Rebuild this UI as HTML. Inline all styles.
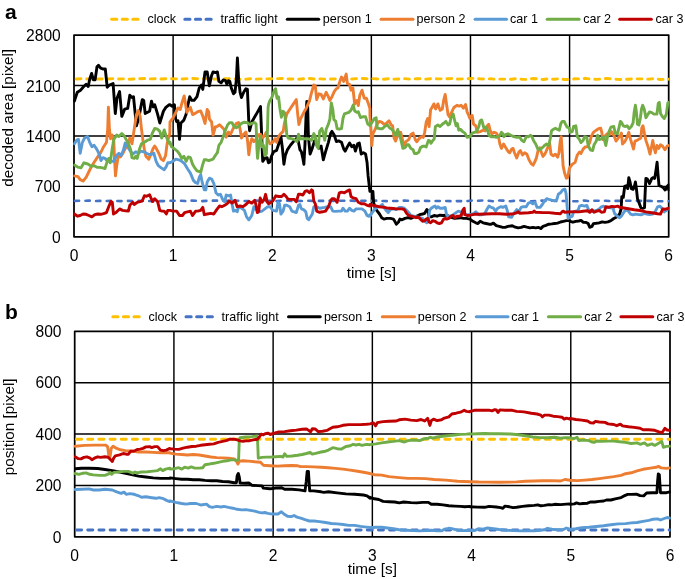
<!DOCTYPE html>
<html><head><meta charset="utf-8"><style>
html,body{margin:0;padding:0;background:#fff;}
svg{display:block;font-family:"Liberation Sans",sans-serif;will-change:transform;font-variant-ligatures:none;font-kerning:none;}
</style></head><body>
<svg width="685" height="579" viewBox="0 0 685 579">
<rect width="685" height="579" fill="#fff"/>
<defs>
<clipPath id="c1"><rect x="73.3" y="35.1" width="596.10" height="201.70"/></clipPath>
<clipPath id="c2"><rect x="74.0" y="331.3" width="596.70" height="205.50"/></clipPath>
</defs>
<text x="5.0" y="18.8" font-size="21" font-weight="bold" fill="#000">a</text>
<text x="5.0" y="319.0" font-size="21" font-weight="bold" fill="#000">b</text>
<line x1="111.60" y1="19.2" x2="138.80" y2="19.2" stroke="#FFC000" stroke-width="3.0" stroke-dasharray="5.2 5.4" stroke-linecap="round"/>
<text x="147.40" y="23.00" font-size="12.55" fill="#000">clock</text>
<line x1="184.80" y1="19.2" x2="212.00" y2="19.2" stroke="#4472C4" stroke-width="3.0" stroke-dasharray="5.2 5.4" stroke-linecap="round"/>
<text x="220.50" y="23.00" font-size="12.55" fill="#000">traffic light</text>
<line x1="287.30" y1="19.2" x2="318.70" y2="19.2" stroke="#000000" stroke-width="3.0" stroke-linecap="round"/>
<text x="322.80" y="23.00" font-size="12.55" fill="#000">person 1</text>
<line x1="381.10" y1="19.2" x2="413.00" y2="19.2" stroke="#ED7D31" stroke-width="3.0" stroke-linecap="round"/>
<text x="416.60" y="23.00" font-size="12.55" fill="#000">person 2</text>
<line x1="475.10" y1="19.2" x2="506.50" y2="19.2" stroke="#5B9BD5" stroke-width="3.0" stroke-linecap="round"/>
<text x="510.10" y="23.00" font-size="12.55" fill="#000">car 1</text>
<line x1="547.20" y1="19.2" x2="579.10" y2="19.2" stroke="#70AD47" stroke-width="3.0" stroke-linecap="round"/>
<text x="583.20" y="23.00" font-size="12.55" fill="#000">car 2</text>
<line x1="619.70" y1="19.2" x2="651.30" y2="19.2" stroke="#C00000" stroke-width="3.0" stroke-linecap="round"/>
<text x="655.50" y="23.00" font-size="12.55" fill="#000">car 3</text>
<line x1="112.80" y1="316.8" x2="140.30" y2="316.8" stroke="#FFC000" stroke-width="3.0" stroke-dasharray="5.2 5.4" stroke-linecap="round"/>
<text x="148.50" y="320.60" font-size="12.55" fill="#000">clock</text>
<line x1="186.00" y1="316.8" x2="213.50" y2="316.8" stroke="#4472C4" stroke-width="3.0" stroke-dasharray="5.2 5.4" stroke-linecap="round"/>
<text x="221.60" y="320.60" font-size="12.55" fill="#000">traffic light</text>
<line x1="288.50" y1="316.8" x2="320.20" y2="316.8" stroke="#000000" stroke-width="3.0" stroke-linecap="round"/>
<text x="323.90" y="320.60" font-size="12.55" fill="#000">person 1</text>
<line x1="382.30" y1="316.8" x2="414.50" y2="316.8" stroke="#ED7D31" stroke-width="3.0" stroke-linecap="round"/>
<text x="417.70" y="320.60" font-size="12.55" fill="#000">person 2</text>
<line x1="476.30" y1="316.8" x2="508.00" y2="316.8" stroke="#5B9BD5" stroke-width="3.0" stroke-linecap="round"/>
<text x="511.20" y="320.60" font-size="12.55" fill="#000">car 1</text>
<line x1="548.40" y1="316.8" x2="580.60" y2="316.8" stroke="#70AD47" stroke-width="3.0" stroke-linecap="round"/>
<text x="584.30" y="320.60" font-size="12.55" fill="#000">car 2</text>
<line x1="620.90" y1="316.8" x2="652.80" y2="316.8" stroke="#C00000" stroke-width="3.0" stroke-linecap="round"/>
<text x="656.60" y="320.60" font-size="12.55" fill="#000">car 3</text>
<line x1="74.0" y1="85.53" x2="668.7" y2="85.53" stroke="#000" stroke-width="1.45"/>
<line x1="74.0" y1="135.95" x2="668.7" y2="135.95" stroke="#000" stroke-width="1.45"/>
<line x1="74.0" y1="186.38" x2="668.7" y2="186.38" stroke="#000" stroke-width="1.45"/>
<line x1="173.12" y1="35.1" x2="173.12" y2="236.8" stroke="#000" stroke-width="1.45"/>
<line x1="272.23" y1="35.1" x2="272.23" y2="236.8" stroke="#000" stroke-width="1.45"/>
<line x1="371.35" y1="35.1" x2="371.35" y2="236.8" stroke="#000" stroke-width="1.45"/>
<line x1="470.47" y1="35.1" x2="470.47" y2="236.8" stroke="#000" stroke-width="1.45"/>
<line x1="569.58" y1="35.1" x2="569.58" y2="236.8" stroke="#000" stroke-width="1.45"/>
<rect x="74.0" y="35.1" width="594.70" height="201.70" fill="none" stroke="#000" stroke-width="1.75" stroke-linejoin="round"/>
<text x="60.8" y="41.20" font-size="15.6" text-anchor="end" fill="#000">2800</text>
<text x="60.8" y="91.62" font-size="15.6" text-anchor="end" fill="#000">2100</text>
<text x="60.8" y="142.05" font-size="15.6" text-anchor="end" fill="#000">1400</text>
<text x="60.8" y="192.47" font-size="15.6" text-anchor="end" fill="#000">700</text>
<text x="60.8" y="242.90" font-size="15.6" text-anchor="end" fill="#000">0</text>
<text x="74.00" y="260.80" font-size="15.6" text-anchor="middle" fill="#000">0</text>
<text x="173.12" y="260.80" font-size="15.6" text-anchor="middle" fill="#000">1</text>
<text x="272.23" y="260.80" font-size="15.6" text-anchor="middle" fill="#000">2</text>
<text x="371.35" y="260.80" font-size="15.6" text-anchor="middle" fill="#000">3</text>
<text x="470.47" y="260.80" font-size="15.6" text-anchor="middle" fill="#000">4</text>
<text x="569.58" y="260.80" font-size="15.6" text-anchor="middle" fill="#000">5</text>
<text x="668.70" y="260.80" font-size="15.6" text-anchor="middle" fill="#000">6</text>
<text x="371.35" y="277.60" font-size="15.3" text-anchor="middle" fill="#000">time [s]</text>
<text transform="translate(12.8,117.8) rotate(-90)" font-size="15.3" text-anchor="middle" fill="#000">decoded area [pixel]</text>
<line x1="74.7" y1="382.68" x2="670.0" y2="382.68" stroke="#000" stroke-width="1.45"/>
<line x1="74.7" y1="434.05" x2="670.0" y2="434.05" stroke="#000" stroke-width="1.45"/>
<line x1="74.7" y1="485.42" x2="670.0" y2="485.42" stroke="#000" stroke-width="1.45"/>
<line x1="173.92" y1="331.3" x2="173.92" y2="536.8" stroke="#000" stroke-width="1.45"/>
<line x1="273.13" y1="331.3" x2="273.13" y2="536.8" stroke="#000" stroke-width="1.45"/>
<line x1="372.35" y1="331.3" x2="372.35" y2="536.8" stroke="#000" stroke-width="1.45"/>
<line x1="471.57" y1="331.3" x2="471.57" y2="536.8" stroke="#000" stroke-width="1.45"/>
<line x1="570.78" y1="331.3" x2="570.78" y2="536.8" stroke="#000" stroke-width="1.45"/>
<rect x="74.7" y="331.3" width="595.30" height="205.50" fill="none" stroke="#000" stroke-width="1.75" stroke-linejoin="round"/>
<text x="61.5" y="337.00" font-size="15.6" text-anchor="end" fill="#000">800</text>
<text x="61.5" y="388.38" font-size="15.6" text-anchor="end" fill="#000">600</text>
<text x="61.5" y="439.75" font-size="15.6" text-anchor="end" fill="#000">400</text>
<text x="61.5" y="491.12" font-size="15.6" text-anchor="end" fill="#000">200</text>
<text x="61.5" y="542.50" font-size="15.6" text-anchor="end" fill="#000">0</text>
<text x="74.70" y="560.80" font-size="15.6" text-anchor="middle" fill="#000">0</text>
<text x="173.92" y="560.80" font-size="15.6" text-anchor="middle" fill="#000">1</text>
<text x="273.13" y="560.80" font-size="15.6" text-anchor="middle" fill="#000">2</text>
<text x="372.35" y="560.80" font-size="15.6" text-anchor="middle" fill="#000">3</text>
<text x="471.57" y="560.80" font-size="15.6" text-anchor="middle" fill="#000">4</text>
<text x="570.78" y="560.80" font-size="15.6" text-anchor="middle" fill="#000">5</text>
<text x="670.00" y="560.80" font-size="15.6" text-anchor="middle" fill="#000">6</text>
<text x="372.35" y="573.70" font-size="15.3" text-anchor="middle" fill="#000">time [s]</text>
<text transform="translate(14.0,426.9) rotate(-90)" font-size="15.3" text-anchor="middle" fill="#000">position [pixel]</text>
<!-- top curves -->
<g clip-path="url(#c1)">
<polyline points="76.15,78.94 81.46,78.70 86.77,79.04 92.07,79.06 97.38,79.05 102.69,78.98 108.00,78.97 113.30,78.64 118.61,78.93 123.92,78.86 129.23,79.28 134.53,78.98 139.84,78.79 145.15,78.54 150.46,78.89 155.76,78.75 161.07,79.05 166.38,78.64 171.69,78.71 176.99,78.89 182.30,78.95 187.61,78.61 192.92,78.55 198.22,78.72 203.53,78.72 208.84,78.62 214.15,79.08 219.45,78.94 224.76,78.71 230.07,78.84 235.38,78.89 240.68,79.27 245.99,79.18 251.30,78.67 256.61,79.11 261.91,78.86 267.22,78.88 272.53,78.81 277.84,78.59 283.14,78.54 288.45,79.00 293.76,78.98 299.07,79.23 304.37,78.73 309.68,78.54 314.99,79.13 320.30,78.88 325.60,79.18 330.91,78.93 336.22,78.98 341.53,78.60 346.83,79.14 352.14,78.93 357.45,78.60 362.76,78.51 368.06,78.74 373.37,78.66 378.68,79.00 383.99,79.23 389.29,78.63 394.60,79.15 399.91,78.94 405.22,78.63 410.52,79.20 415.83,78.81 421.14,78.77 426.45,79.16 431.75,78.56 437.06,78.86 442.37,78.86 447.68,78.72 452.98,78.53 458.29,79.12 463.60,78.74 468.91,78.69 474.21,78.28 479.52,78.81 484.83,79.09 490.14,78.81 495.44,79.20 500.75,79.15 506.06,79.17 511.37,79.30 516.67,78.62 521.98,79.26 527.29,79.49 532.60,78.52 537.90,78.87 543.21,79.53 548.52,78.83 553.83,79.27 559.13,78.71 564.44,79.49 569.75,79.49 575.06,78.76 580.36,78.96 585.67,78.31 590.98,79.13 596.29,79.38 601.59,78.90 606.90,78.41 612.21,78.91 617.52,79.40 622.82,79.51 628.13,79.19 633.44,78.79 638.75,78.85 644.05,78.96 649.36,79.15 654.67,78.56 659.98,79.46 665.28,79.24 670.59,79.21" fill="none" stroke="#FFC000" stroke-width="2.9" stroke-dasharray="4.80 5.81" stroke-linecap="round" stroke-linejoin="round"/>
<polyline points="74.90,200.92 80.21,200.74 85.52,200.73 90.83,200.60 96.14,201.05 101.45,200.82 106.76,201.04 112.07,200.82 117.38,201.00 122.69,201.12 128.00,200.86 133.31,201.04 138.62,200.85 143.93,200.95 149.24,201.02 154.55,201.15 159.86,201.12 165.17,201.12 170.48,200.79 175.79,200.72 181.10,200.80 186.41,201.13 191.72,200.65 197.03,200.77 202.34,201.15 207.65,200.77 212.96,200.61 218.27,200.66 223.58,200.91 228.89,200.81 234.20,200.73 239.51,200.71 244.82,201.05 250.13,200.91 255.44,200.67 260.75,200.86 266.06,201.03 271.37,200.75 276.68,201.16 281.99,200.64 287.30,200.72 292.61,201.18 297.92,200.91 303.23,201.01 308.54,200.76 313.85,200.89 319.16,200.92 324.47,200.92 329.78,200.67 335.09,200.93 340.40,200.75 345.71,200.73 351.02,200.62 356.33,201.12 361.64,200.84 366.95,200.76 372.26,200.76 377.57,200.63 382.88,200.99 388.19,201.15 393.50,200.94 398.81,201.08 404.12,200.61 409.43,200.86 414.74,201.14 420.05,200.90 425.36,200.83 430.67,201.06 435.98,201.00 441.29,200.95 446.60,201.03 451.91,201.20 457.22,201.07 462.53,201.18 467.84,200.99 473.15,200.49 478.46,200.72 483.77,200.48 489.08,200.82 494.39,201.34 499.70,200.47 505.01,200.70 510.32,201.24 515.63,200.74 520.94,200.54 526.25,201.25 531.56,201.18 536.87,201.06 542.18,200.52 547.49,201.13 552.80,200.75 558.11,201.22 563.42,200.99 568.73,201.08 574.04,201.20 579.35,201.24 584.66,200.48 589.97,201.34 595.28,200.70 600.59,200.70 605.90,200.68 611.21,201.25 616.52,200.85 621.83,200.86 627.14,200.78 632.45,200.82 637.76,200.86 643.07,200.87 648.38,200.82 653.69,201.19 659.00,201.32 664.31,201.27 669.62,201.28" fill="none" stroke="#4472C4" stroke-width="2.6" stroke-dasharray="4.20 6.42" stroke-linecap="round" stroke-linejoin="round"/>
<polyline points="74.4,101.1 75.8,96.7 77.3,92.3 80.2,90.6 83.1,87.2 86.1,84.3 88.2,86.5 89.7,79.2 91.6,73.4 93.4,79.9 95.1,79.9 97.0,66.8 98.5,65.3 100.7,68.2 102.8,69.0 105.3,69.0 107.2,87.2 109.4,85.0 113.1,83.6 115.3,113.5 117.0,98.2 119.6,91.6 121.8,116.4 124.7,109.1 127.7,108.4 129.8,95.3 132.0,97.5 133.5,96.7 136.4,125.9 138.6,118.6 142.3,99.6 143.7,100.4 145.2,113.5 149.6,111.3 151.5,101.1 153.2,106.9 154.7,104.7 157.6,114.2 159.8,123.0 163.4,111.3 165.6,107.7 169.3,104.7 170.0,104.7 172.2,106.2 174.4,104.7 175.6,118.6 176.6,121.5 178.0,120.8 179.5,139.4 180.9,123.0 183.9,120.1 186.1,114.2 187.5,106.9 189.7,96.7 191.9,100.4 194.1,100.4 197.0,96.7 199.2,88.0 201.4,85.0 202.8,89.4 205.0,71.9 207.2,71.9 209.4,85.8 211.6,75.5 213.1,71.9 215.3,72.6 217.4,71.9 218.9,81.4 221.1,82.8 223.3,79.9 225.5,80.7 226.9,84.3 228.4,80.7 229.8,81.4 231.3,88.0 233.5,93.8 235.0,92.3 236.4,79.2 237.4,58.0 238.6,79.2 240.1,92.3 241.5,97.5 243.7,92.3 245.9,88.7 247.4,89.4 248.1,105.5 248.8,121.9 249.6,130.7 251.8,121.9 256.1,114.6 260.5,106.6 261.7,136.5 262.7,161.3 264.9,158.4 267.1,157.7 268.5,162.8 269.9,162.0 270.0,161.3 271.5,156.2 273.6,151.8 276.6,150.4 278.8,143.8 280.9,136.5 282.4,148.2 283.9,164.2 285.3,155.5 287.5,149.6 290.4,145.3 294.1,140.9 297.0,138.0 298.5,142.3 299.9,149.6 301.4,151.8 302.9,158.4 303.9,164.2 305.0,143.8 306.1,114.6 306.8,101.5 307.7,107.3 308.4,136.5 310.1,154.0 312.3,148.2 314.5,140.9 316.7,143.8 318.9,148.2 321.1,146.0 323.3,159.8 325.5,151.8 328.4,142.3 330.6,133.6 332.0,131.4 334.2,135.0 336.4,141.6 338.6,140.9 341.5,142.3 343.7,148.9 345.2,151.1 347.4,146.7 349.6,143.1 351.8,146.7 353.9,145.3 355.4,151.1 357.6,143.8 359.3,143.1 361.2,154.0 363.4,152.6 365.6,154.0 367.1,162.8 368.1,175.9 369.9,191.4 370.7,191.4 372.9,191.4 373.6,202.3 375.1,208.2 377.3,211.1 379.5,214.0 381.7,217.7 383.9,219.1 386.8,218.4 390.4,218.4 393.4,219.1 394.8,221.3 396.3,224.2 398.5,222.0 399.9,219.1 402.1,219.8 405.0,218.4 408.0,217.7 410.9,218.4 413.8,216.9 416.7,216.2 419.6,214.7 422.6,214.0 424.7,213.3 426.9,209.6 428.0,210.4 429.1,216.9 431.3,216.9 434.2,215.5 437.1,216.2 440.1,215.2 443.0,215.5 445.9,215.2 448.8,216.2 451.8,217.7 454.7,218.4 457.6,218.1 460.5,217.7 463.4,218.4 466.4,218.4 469.9,219.1 470.0,219.1 472.9,221.3 475.8,222.8 478.0,223.5 480.2,221.3 483.1,222.8 486.1,223.5 489.0,224.2 491.2,224.2 493.4,223.1 496.3,225.7 499.2,226.4 502.1,227.2 505.0,227.4 508.0,226.4 512.3,225.7 515.3,227.2 518.2,227.9 521.1,227.4 524.0,226.4 526.9,227.2 529.9,227.9 532.8,227.4 535.7,227.9 538.6,227.4 540.8,228.6 543.0,226.4 545.9,225.4 548.8,224.2 551.8,223.9 554.7,223.5 557.6,223.1 560.5,222.0 563.4,221.3 566.4,220.6 569.9,220.6 570.0,221.4 572.9,222.2 575.8,221.4 578.8,221.0 581.0,220.4 583.1,222.2 586.1,222.4 588.2,223.6 589.7,227.3 591.9,226.5 593.4,223.6 596.3,223.3 599.2,222.9 602.1,221.9 605.0,222.4 608.0,221.9 610.9,220.7 613.8,218.5 616.7,217.0 619.6,214.1 621.1,209.0 621.8,196.6 623.3,197.3 624.7,186.4 626.2,185.7 627.7,188.6 628.8,177.6 629.9,181.3 631.3,188.6 633.1,189.3 634.2,187.1 635.4,182.0 636.4,188.6 637.5,198.8 638.9,202.4 640.8,207.6 643.0,208.3 644.5,207.6 645.2,191.5 645.9,178.4 647.4,179.1 649.6,183.5 651.8,178.4 653.2,177.6 654.7,178.4 656.1,169.6 657.1,162.3 658.0,174.0 659.0,185.7 661.2,186.4 663.4,187.8 665.2,190.0 667.1,186.4 668.5,184.9 668.7,190.0" fill="none" stroke="#000000" stroke-width="2.9" stroke-linejoin="round" stroke-linecap="round"/>
<polyline points="74.4,175.9 78.0,176.6 80.2,179.6 83.1,181.0 86.1,177.4 89.0,171.5 91.9,165.7 94.8,161.3 97.7,156.9 100.7,152.6 103.6,146.7 106.5,142.3 107.7,129.2 108.4,107.3 109.4,129.2 110.6,138.7 112.3,135.0 113.8,140.9 114.5,158.4 115.5,175.9 116.7,165.7 118.2,156.2 120.4,156.9 122.5,154.0 125.5,148.2 128.4,142.3 129.8,138.0 132.0,143.8 134.2,129.2 136.4,114.6 138.3,110.5 140.1,116.1 141.5,129.2 143.0,140.9 144.4,149.6 145.9,156.2 148.8,159.1 151.0,154.0 153.2,148.2 154.7,146.0 156.9,149.6 159.1,154.0 161.2,159.1 163.4,160.6 165.6,155.5 167.1,143.8 168.5,138.0 169.8,133.6 170.0,121.9 172.9,118.2 175.8,112.4 178.0,108.0 180.2,109.5 182.4,101.5 184.2,96.0 185.3,102.5 186.8,112.4 188.2,110.2 190.4,107.3 192.6,114.6 195.6,113.1 197.7,111.7 200.7,111.0 202.8,116.1 205.0,123.4 207.2,109.5 208.7,111.7 209.4,119.0 211.6,121.9 213.1,135.0 215.3,127.0 217.4,126.3 219.6,124.8 221.8,127.0 224.0,129.2 226.2,137.2 228.4,132.1 230.6,134.3 232.8,129.2 235.0,125.5 236.4,123.4 238.6,122.6 240.1,129.2 241.5,138.0 243.7,134.3 245.9,132.1 247.4,139.4 248.8,154.7 250.3,143.8 251.8,138.7 253.9,141.6 256.1,139.4 258.3,135.0 260.5,134.3 262.7,138.0 264.9,135.0 266.4,132.1 267.8,138.7 269.9,143.8 270.0,143.8 272.9,142.3 275.1,138.7 276.6,142.3 278.0,138.0 280.2,134.3 283.1,131.4 284.6,122.6 286.8,113.9 289.7,109.5 292.6,105.1 296.3,99.6 297.7,114.2 298.9,124.5 300.7,118.6 303.6,112.8 306.5,107.7 309.4,101.1 311.6,92.3 313.8,85.0 315.3,85.8 316.7,99.6 318.9,93.8 321.1,94.5 323.3,98.9 326.2,92.3 327.7,95.3 329.9,100.4 332.0,96.7 334.2,91.6 336.4,88.7 337.9,88.0 340.1,80.7 341.5,77.0 343.7,81.4 345.2,77.0 346.2,74.1 347.4,83.6 349.6,84.3 351.0,90.2 352.9,88.0 354.7,104.0 356.9,100.4 358.3,105.5 359.8,95.3 362.0,90.2 364.2,98.2 366.4,98.2 368.5,104.0 369.9,108.4 370.0,116.3 370.7,126.5 371.8,145.5 372.9,133.8 375.1,129.4 377.3,123.6 379.5,121.4 381.7,122.1 383.9,124.3 386.1,123.6 389.0,120.7 391.2,125.0 392.6,125.8 394.1,138.2 395.6,141.1 397.7,135.3 400.7,132.3 402.9,141.1 404.3,144.7 406.5,141.1 408.7,139.6 410.9,134.5 413.1,133.1 415.3,139.6 416.7,141.8 418.9,138.9 421.1,136.7 423.3,137.4 424.7,132.3 426.2,122.1 427.7,118.5 429.1,126.5 430.6,109.7 432.0,107.5 433.9,103.9 435.7,109.0 437.9,103.9 440.1,110.4 442.3,109.0 443.7,100.2 445.2,94.4 446.6,104.6 448.1,114.8 449.6,117.0 451.8,111.9 453.9,107.5 456.9,105.3 459.1,106.1 461.2,105.3 463.4,108.2 465.6,104.6 467.1,111.9 468.5,114.8 469.9,118.5 470.0,116.3 472.2,115.5 473.6,124.3 475.8,125.8 477.3,132.3 480.2,131.6 483.1,130.2 485.3,130.9 486.8,126.5 488.7,124.3 490.1,130.2 491.9,133.8 494.1,132.3 496.3,133.1 498.5,136.7 499.9,144.0 501.4,148.4 503.6,144.0 505.8,147.7 508.0,151.3 509.7,152.8 511.6,149.1 513.1,148.4 514.5,152.8 516.7,157.9 518.9,152.0 520.4,150.6 522.5,155.0 524.7,152.8 526.9,154.2 529.1,160.1 531.3,163.7 533.1,165.2 535.0,161.5 536.4,157.9 537.9,151.3 539.8,147.7 541.5,152.8 543.0,156.4 545.2,153.5 547.4,148.4 549.6,142.6 551.0,154.2 553.2,155.7 555.4,154.2 557.6,157.2 559.0,152.8 560.2,141.1 561.2,136.7 562.0,148.4 563.1,165.9 564.6,173.1 566.4,178.2 567.8,177.5 569.3,168.8 570.0,167.4 572.2,164.4 575.1,162.3 577.3,155.0 579.5,152.0 581.0,153.5 583.1,149.1 585.3,146.9 587.5,146.9 589.7,142.6 591.2,136.7 593.4,132.3 596.3,130.2 598.5,128.7 600.7,128.2 601.8,132.3 602.9,139.6 605.0,136.0 607.2,133.8 609.4,134.5 611.6,131.6 613.8,135.3 616.0,141.1 618.2,138.2 620.4,135.3 621.4,133.1 622.5,144.0 624.7,141.8 626.9,137.4 628.8,132.3 630.6,139.6 632.0,144.0 633.5,149.1 635.0,141.1 637.1,140.4 639.3,138.9 640.8,138.2 641.8,128.0 643.0,125.8 644.5,133.8 645.9,140.4 648.1,146.9 650.0,154.2 651.8,145.5 652.8,140.4 653.9,146.9 655.4,152.8 656.9,145.5 658.8,148.4 660.5,144.7 662.7,146.2 664.9,149.8 667.1,146.2 668.7,145.5" fill="none" stroke="#ED7D31" stroke-width="2.9" stroke-linejoin="round" stroke-linecap="round"/>
<polyline points="74.4,143.8 76.6,140.2 78.5,139.4 80.2,153.3 82.4,142.3 84.6,138.0 87.5,136.5 89.7,142.3 91.9,146.7 94.1,145.3 97.0,149.6 99.2,154.0 101.0,160.6 102.8,157.7 105.0,158.4 107.2,160.6 110.2,161.3 113.8,161.3 116.4,155.5 118.9,153.3 121.1,155.5 123.3,150.4 125.2,143.1 127.7,146.7 129.8,150.4 132.8,154.0 135.7,151.8 138.6,153.3 140.8,151.1 143.7,151.8 146.6,153.3 149.6,154.7 151.8,154.0 153.9,153.3 156.1,161.3 158.3,165.7 161.2,167.9 164.2,169.8 166.3,166.4 167.8,162.8 169.8,162.8 170.0,162.8 172.9,161.3 175.8,159.1 178.8,159.8 181.7,161.3 184.6,163.7 187.5,168.8 190.4,173.1 193.4,180.4 195.6,182.6 197.7,183.4 199.2,177.5 200.7,174.6 202.1,181.9 204.3,189.9 205.8,189.9 207.2,181.9 209.4,178.2 211.6,179.0 213.8,183.4 216.0,192.8 218.2,195.0 220.4,194.3 222.6,199.4 224.7,201.6 226.2,195.0 228.4,195.8 230.6,195.0 232.0,203.8 233.5,211.1 235.7,210.4 237.2,211.8 238.6,206.7 241.5,208.2 244.4,210.4 246.6,216.9 248.8,219.8 251.8,215.5 253.9,206.7 256.1,209.6 259.1,211.8 262.0,211.1 264.9,208.9 267.8,206.7 269.9,206.7 270.0,206.7 272.9,210.4 276.6,211.1 278.0,202.3 279.5,203.8 280.9,214.0 283.1,211.1 284.6,205.3 286.8,205.3 289.7,206.7 291.9,211.1 294.1,211.8 296.3,212.6 298.5,205.3 299.9,204.5 301.4,208.9 303.6,209.6 305.8,211.8 307.2,218.4 308.7,219.8 310.9,216.2 312.3,214.0 313.8,206.7 315.3,206.0 319.6,208.2 324.7,207.4 327.7,206.7 330.6,206.7 332.8,211.1 335.7,211.4 338.6,211.1 341.5,211.1 343.0,208.2 345.2,211.1 347.4,211.1 349.6,208.2 351.8,210.4 353.9,211.1 356.1,208.9 359.1,208.9 362.0,208.9 364.9,211.1 367.1,215.5 368.5,216.2 369.9,214.7 370.0,216.2 372.2,212.6 374.4,209.6 376.6,207.4 379.5,206.7 382.4,204.5 383.9,207.4 386.1,210.4 388.2,212.6 390.4,209.6 393.4,208.9 396.3,209.6 399.2,207.4 401.4,207.4 404.3,208.2 406.5,210.4 408.7,212.6 410.9,215.5 416.7,216.9 422.6,218.4 424.7,221.3 426.9,222.8 428.4,219.8 429.6,210.4 431.3,208.2 433.5,206.7 435.0,206.0 436.4,208.2 437.9,206.7 440.1,208.2 443.0,208.2 445.2,207.4 446.6,214.7 448.1,216.2 450.3,216.2 453.2,214.7 456.1,212.6 458.3,211.1 460.5,211.8 462.7,214.0 466.4,214.7 469.9,214.7 470.0,214.7 472.9,214.0 475.8,211.8 478.8,214.7 481.7,214.7 484.6,214.0 486.8,209.6 489.0,206.0 491.2,207.4 493.4,208.2 495.6,211.1 497.7,208.2 500.7,206.7 502.9,207.4 505.8,206.0 507.2,210.4 508.7,216.9 511.6,217.2 513.8,213.3 516.7,209.6 518.9,211.8 521.1,207.4 523.3,206.7 526.2,206.7 528.4,203.1 530.6,202.3 532.8,203.8 535.0,202.3 537.1,207.4 540.1,207.4 542.3,204.5 544.5,200.9 546.6,198.7 548.8,199.4 551.8,200.2 554.7,200.9 556.9,199.4 558.3,194.3 560.5,192.8 562.7,189.9 564.9,189.2 566.1,193.6 567.1,206.7 568.1,218.4 569.3,217.7 570.0,217.0 572.2,216.3 573.6,211.9 575.8,211.2 578.0,210.5 579.5,206.1 581.7,205.4 584.6,206.1 586.8,205.4 588.2,209.0 590.4,211.9 593.4,211.2 596.3,210.5 599.2,209.0 601.4,206.8 603.6,206.1 605.8,207.6 609.4,207.6 613.1,208.3 614.5,213.4 616.7,215.6 619.6,217.8 621.8,215.6 624.0,211.9 626.2,209.7 628.4,211.2 630.6,214.1 632.8,214.8 635.7,214.1 638.6,214.6 641.5,214.8 644.5,213.4 646.6,214.1 649.6,214.6 652.5,214.1 655.4,211.2 657.6,206.8 659.8,206.1 662.0,208.3 664.2,211.9 666.4,210.5 668.7,208.3" fill="none" stroke="#5B9BD5" stroke-width="2.9" stroke-linejoin="round" stroke-linecap="round"/>
<polyline points="74.4,165.0 78.0,167.2 81.0,167.9 83.9,162.8 86.1,163.5 88.2,164.2 91.2,166.4 94.1,165.7 97.0,167.2 99.9,167.4 102.8,167.9 105.0,168.6 107.2,161.3 108.7,158.4 110.2,162.8 112.3,148.2 113.8,139.4 116.7,135.0 118.9,136.5 121.8,133.6 124.0,135.8 126.2,139.4 128.4,143.8 130.6,149.6 132.0,157.7 134.2,158.4 135.7,156.2 137.2,158.4 139.3,149.6 141.5,143.8 144.4,142.3 147.4,140.2 150.3,139.4 152.5,132.8 154.7,128.5 157.6,129.2 159.8,131.4 161.7,138.0 164.2,129.9 166.3,136.5 168.5,142.3 169.8,143.8 170.0,142.3 171.5,146.7 174.4,148.9 177.3,151.1 179.5,154.0 181.7,158.4 183.9,156.2 186.1,161.3 188.2,156.9 190.4,157.7 192.6,164.2 194.8,167.9 197.0,170.8 199.2,171.5 200.7,172.3 202.8,164.2 204.3,159.8 206.5,159.8 208.7,160.6 210.9,159.8 213.1,159.1 215.3,155.5 217.4,152.6 218.9,145.3 221.1,142.3 223.3,136.5 225.5,129.9 227.7,124.8 229.8,122.6 232.0,122.6 234.2,127.0 236.4,127.7 238.6,126.3 241.5,123.4 244.4,122.2 247.4,122.6 249.6,124.5 251.8,123.4 254.7,122.6 256.1,124.1 256.9,148.2 257.6,158.4 259.1,142.3 260.5,136.5 262.0,146.7 263.4,145.3 264.9,155.5 266.4,154.0 267.5,129.2 268.1,107.3 268.7,104.0 269.9,100.4 270.0,100.4 272.2,96.7 274.4,90.2 275.6,88.7 277.0,98.2 278.5,96.7 279.9,108.4 281.4,117.2 283.1,111.3 284.6,112.8 285.8,123.0 286.8,135.0 288.2,138.0 291.2,138.7 294.1,139.4 297.0,141.6 298.5,134.3 299.9,138.7 302.9,138.7 305.8,138.7 308.7,138.7 311.6,140.2 313.8,133.6 315.3,136.5 316.4,145.3 318.2,148.2 319.6,131.4 321.8,128.5 323.3,133.6 324.7,140.2 326.2,129.2 328.4,124.1 329.9,119.0 331.3,102.9 332.8,109.5 333.9,119.7 335.7,121.2 337.1,128.5 339.3,129.2 341.5,128.5 343.0,118.2 344.4,113.9 346.6,113.1 348.8,112.4 351.0,110.2 353.2,105.1 354.7,111.0 356.9,112.4 358.3,111.7 360.5,117.5 362.7,116.8 365.6,116.8 367.8,124.1 369.9,125.5 370.0,125.0 372.2,122.1 374.4,118.5 376.1,117.7 377.3,128.0 379.5,128.7 382.4,128.7 384.6,126.5 387.5,125.0 389.7,128.0 391.9,129.4 394.1,132.3 395.6,135.3 397.7,129.4 399.2,133.8 400.9,139.6 402.9,148.4 405.0,147.7 407.2,144.7 408.7,144.7 410.9,148.4 413.1,149.8 414.5,153.5 416.7,153.5 418.9,152.0 420.4,147.7 422.6,146.2 424.7,146.2 426.2,146.9 428.4,140.4 429.9,141.1 431.0,143.3 432.8,140.4 434.2,138.9 435.4,126.5 437.9,125.0 440.1,126.5 442.3,124.3 444.4,122.8 445.9,121.4 448.1,125.0 449.6,124.3 451.0,117.7 453.2,114.1 454.7,120.7 456.1,125.8 457.3,123.6 458.8,130.2 460.5,129.4 462.7,131.6 464.9,133.1 467.1,137.4 469.9,136.7 470.0,136.7 472.2,133.1 474.4,132.3 476.6,131.6 478.8,126.5 480.2,120.7 481.7,119.9 482.9,124.3 483.9,128.0 486.1,127.2 487.5,130.2 489.0,135.3 491.2,136.7 494.1,136.7 496.3,137.4 498.5,136.7 499.9,135.3 501.4,132.3 502.9,133.8 503.9,136.7 505.8,134.5 508.0,133.8 510.9,135.3 513.8,136.7 516.7,137.4 519.6,137.0 521.8,140.4 524.0,141.8 526.2,136.7 528.4,136.7 530.6,135.3 532.0,136.7 533.5,140.4 535.7,144.0 537.9,149.1 540.1,149.6 542.3,147.7 544.5,145.5 546.6,144.0 548.8,145.5 550.3,138.2 551.5,130.9 553.2,129.4 555.4,128.2 557.6,129.4 559.3,130.2 560.8,123.6 562.3,121.4 564.2,121.4 565.6,124.3 567.1,127.2 569.3,128.0 570.0,132.3 572.2,131.6 573.6,126.5 575.8,125.8 577.3,136.7 579.5,139.6 581.0,142.6 583.1,140.4 584.6,136.7 586.8,137.4 588.2,145.5 590.4,149.8 592.6,150.6 594.1,144.7 596.3,141.1 597.7,135.3 599.2,139.6 601.4,138.9 603.6,136.7 605.8,145.5 607.2,138.2 608.7,132.3 610.9,127.2 613.8,126.5 615.3,133.1 617.5,133.8 618.9,128.0 620.4,121.4 621.8,122.8 623.3,125.8 625.5,126.5 627.2,125.8 629.1,128.7 631.3,126.5 633.1,122.8 634.2,111.9 635.4,105.3 636.4,111.9 637.5,124.3 638.9,125.0 640.4,117.7 641.5,109.0 642.7,105.3 644.2,109.0 645.9,117.7 648.1,114.1 649.6,111.9 651.8,112.6 653.9,114.1 656.9,114.1 658.3,103.1 659.3,102.4 660.5,113.4 662.7,117.0 664.2,118.5 666.4,114.1 667.8,103.1 668.7,102.4" fill="none" stroke="#70AD47" stroke-width="2.9" stroke-linejoin="round" stroke-linecap="round"/>
<polyline points="74.4,214.0 77.3,216.2 80.2,215.5 83.1,214.0 86.1,214.3 89.0,215.5 91.9,216.9 94.8,214.7 97.7,214.0 100.7,214.3 103.6,213.7 106.5,212.6 108.7,206.7 110.9,201.6 112.3,202.3 113.5,214.0 116.0,212.6 119.6,208.9 122.5,210.4 125.5,210.8 128.4,211.1 129.8,205.3 132.8,202.3 134.2,204.5 137.2,202.3 140.1,201.6 142.3,200.9 144.4,195.8 146.6,196.2 149.6,194.7 151.0,198.0 152.5,201.6 154.7,198.7 157.6,201.6 159.8,210.4 162.0,211.1 164.2,211.1 166.3,214.0 167.8,210.4 169.8,210.4 170.0,210.4 172.9,211.1 176.6,211.1 179.5,215.5 182.4,215.5 184.6,212.6 187.5,211.8 190.4,211.1 192.6,215.5 195.6,211.1 197.7,211.1 200.7,210.4 202.8,207.4 204.3,214.7 207.2,214.0 210.9,213.3 213.8,214.0 216.7,209.6 219.6,206.0 221.8,206.7 224.7,205.3 227.7,203.1 229.1,200.9 232.0,203.1 235.0,200.2 237.2,206.7 240.1,206.0 243.0,206.7 245.9,204.5 248.8,201.6 251.8,203.1 254.7,200.2 256.1,205.3 257.3,212.6 258.8,211.1 260.2,198.0 262.0,202.3 264.2,199.4 265.6,194.3 267.1,201.6 268.5,203.8 269.9,203.1 270.0,203.1 272.9,200.9 275.8,195.8 278.8,196.5 281.7,196.5 283.9,194.3 286.1,196.5 288.2,199.4 291.2,199.4 294.1,199.4 296.3,201.6 298.5,194.3 300.7,194.3 302.9,195.0 305.0,191.4 307.2,190.7 309.4,192.8 311.6,189.9 312.6,190.7 313.8,200.9 315.3,203.8 316.7,211.1 319.6,212.3 322.6,211.8 325.5,211.1 328.4,206.7 330.6,200.9 332.0,198.7 334.2,198.7 337.1,202.3 339.3,192.8 341.5,192.1 344.4,192.8 346.6,191.4 349.6,189.9 351.0,196.5 353.2,198.0 356.1,198.7 358.3,202.3 361.2,203.8 364.2,203.8 367.1,205.3 369.9,206.0 370.0,204.5 372.9,205.3 375.8,206.0 378.8,206.7 381.7,207.0 384.6,207.4 387.5,208.2 390.4,208.2 393.4,208.5 396.3,208.9 399.2,208.9 402.1,208.9 404.3,209.6 406.5,213.3 408.7,215.5 410.9,216.2 413.8,216.9 416.0,217.7 418.2,216.9 420.4,219.1 422.6,221.3 424.7,220.6 426.2,219.1 427.7,218.4 429.1,222.0 430.6,222.8 432.8,220.6 435.0,221.3 437.1,222.8 439.3,223.5 441.5,222.8 443.7,219.1 445.2,218.4 446.6,219.1 448.8,218.4 451.0,216.2 453.2,215.5 454.7,217.7 456.9,216.2 459.1,216.2 461.2,215.5 462.7,210.4 464.2,208.2 464.9,214.7 467.1,215.5 469.9,215.2 470.0,215.2 474.4,214.3 478.8,214.3 484.6,214.0 491.9,213.7 499.2,213.7 506.5,214.3 513.8,213.7 516.7,212.8 518.2,211.8 519.6,213.3 528.4,212.8 532.8,212.3 534.2,211.1 535.7,212.3 543.0,212.6 548.8,212.6 554.7,213.3 560.5,213.7 562.0,211.8 563.4,211.1 564.9,212.3 569.9,211.8 570.0,211.9 574.4,211.6 578.8,211.9 583.1,211.2 587.5,210.8 589.7,212.2 591.9,209.7 594.1,212.2 597.0,211.2 599.2,210.5 601.4,212.2 604.3,211.9 605.8,206.8 608.7,207.3 611.6,206.4 614.5,206.8 617.5,206.1 619.6,207.3 622.5,207.8 628.4,208.7 634.2,209.7 640.1,210.5 645.9,211.9 651.8,212.7 657.6,213.7 660.5,214.1 662.7,209.0 664.9,209.3 667.1,208.7 668.7,208.3" fill="none" stroke="#C00000" stroke-width="2.9" stroke-linejoin="round" stroke-linecap="round"/>
</g>
<!-- bottom curves -->
<g clip-path="url(#c2)">
<line x1="76.55" y1="439.2" x2="673.00" y2="439.2" stroke="#FFC000" stroke-width="2.9" stroke-dasharray="5.10 6.06" stroke-linecap="round"/>
<line x1="76.55" y1="530.0" x2="673.00" y2="530.0" stroke="#4472C4" stroke-width="2.9" stroke-dasharray="5.10 6.08" stroke-linecap="round"/>
<polyline points="75.1,468.8 81.7,468.2 89.0,468.2 97.7,468.5 105.0,469.5 112.3,470.6 119.6,472.0 126.9,473.5 132.8,474.9 138.6,476.1 145.9,477.0 153.2,477.9 160.5,478.4 169.8,478.4 170.0,477.9 175.8,478.6 181.7,479.3 187.5,479.3 193.4,479.8 199.2,479.8 205.0,480.4 210.9,480.8 216.7,480.8 222.6,481.5 228.4,481.8 234.2,482.7 236.4,482.7 237.2,475.7 238.3,473.5 239.3,477.1 240.1,483.0 244.4,483.3 248.8,483.0 251.8,485.2 257.6,485.6 262.0,485.9 263.4,488.1 269.9,488.8 270.0,488.9 275.8,488.0 281.7,487.7 284.6,489.2 291.9,489.2 299.2,489.9 305.0,490.9 306.2,481.9 307.2,471.4 308.4,471.4 309.1,481.9 309.7,490.9 313.8,490.9 321.1,491.8 324.0,492.4 328.4,491.8 337.1,492.9 345.9,493.9 354.7,494.3 363.4,495.0 367.1,495.8 369.9,498.2 370.0,497.3 374.4,498.8 378.8,499.5 383.1,501.4 389.0,501.7 394.8,502.0 399.2,502.9 403.6,502.0 410.9,502.6 416.7,502.9 422.6,502.4 428.4,502.4 431.3,504.3 437.1,504.3 443.0,504.9 448.8,505.8 454.7,506.1 460.5,506.4 464.9,506.8 469.9,506.4 470.0,506.8 477.3,507.1 484.6,507.3 489.0,506.4 496.3,507.0 500.7,507.6 502.9,508.3 505.0,506.1 509.4,506.8 513.1,507.6 516.7,507.3 522.5,506.4 528.4,505.8 534.2,505.4 537.9,504.9 540.8,505.8 544.5,505.4 548.8,504.6 551.8,504.9 554.7,504.3 560.5,504.6 566.4,504.1 569.9,503.9 570.0,504.3 574.4,503.9 576.6,502.9 579.5,503.9 583.1,503.5 587.5,503.2 590.4,502.0 594.8,502.0 599.2,501.4 603.6,501.0 606.5,500.0 610.9,500.0 615.3,498.8 621.1,497.6 624.0,495.9 627.7,494.4 631.3,494.4 636.4,494.1 640.1,495.6 643.7,495.9 646.6,493.0 651.8,492.7 656.9,492.7 657.6,481.3 658.3,474.0 659.3,474.7 659.9,484.2 660.5,492.7 666.4,492.7 670.0,491.8" fill="none" stroke="#000000" stroke-width="2.9" stroke-linejoin="round" stroke-linecap="round"/>
<polyline points="75.1,446.2 84.6,445.4 94.8,445.1 105.8,445.1 107.7,446.9 108.7,454.9 110.2,456.4 111.2,448.4 113.1,446.2 116.7,448.4 120.4,449.8 125.5,450.6 131.3,451.0 138.6,452.0 145.9,452.0 153.2,452.4 160.5,452.7 169.8,452.7 170.0,453.1 175.8,454.1 181.7,454.5 187.5,455.0 193.4,454.5 199.2,455.0 205.0,456.0 210.9,457.0 216.7,457.6 222.6,457.9 228.4,458.2 234.2,458.9 236.4,461.1 237.9,464.0 239.3,461.1 243.0,460.8 248.8,461.1 254.7,461.8 260.5,462.3 263.4,465.2 266.4,465.5 269.9,465.8 270.0,465.8 277.3,466.1 284.6,465.8 291.9,465.5 297.7,465.8 300.7,466.6 306.5,466.6 313.8,466.9 321.1,467.2 328.4,467.8 335.7,468.4 343.0,469.1 350.3,470.1 357.6,471.3 364.9,472.5 369.9,473.5 370.0,473.7 374.4,474.7 381.7,475.1 389.0,476.6 399.2,477.6 408.0,478.4 416.7,478.4 425.5,478.6 434.2,479.5 445.9,480.1 457.6,481.3 469.9,481.7 470.0,481.7 478.8,482.0 487.5,482.1 499.2,482.3 508.0,482.1 516.7,481.9 525.5,481.3 534.2,481.0 543.0,480.7 551.8,480.6 560.5,481.0 564.9,479.5 569.9,480.3 570.0,480.3 577.3,480.6 584.6,480.1 591.9,479.5 599.2,478.6 606.5,477.6 613.8,476.6 621.1,475.4 625.5,473.7 631.3,472.8 637.1,470.8 643.0,469.3 650.3,468.1 656.1,467.3 658.3,466.4 661.2,467.9 666.4,468.4 670.0,467.9" fill="none" stroke="#ED7D31" stroke-width="2.9" stroke-linejoin="round" stroke-linecap="round"/>
<polyline points="75.1,489.5 81.7,489.2 89.0,488.9 93.4,490.0 99.2,490.0 105.0,489.2 112.3,490.0 116.7,491.9 121.1,493.3 124.0,492.1 126.2,494.3 129.8,493.6 134.2,494.3 138.6,495.8 141.5,497.3 145.9,496.8 151.8,497.7 156.1,498.3 159.1,497.7 163.4,498.7 167.1,500.6 169.8,501.6 170.0,500.9 175.8,502.3 181.7,503.5 186.1,504.1 190.4,503.5 196.3,503.5 200.7,505.0 206.5,504.1 209.4,506.7 212.3,507.4 216.7,506.4 221.1,507.0 224.0,506.4 228.4,507.4 232.8,508.2 237.2,509.3 241.5,509.9 245.9,509.6 250.3,510.4 254.7,511.1 259.1,512.3 262.0,512.9 264.9,512.5 267.8,513.3 269.9,513.7 270.0,513.7 274.4,514.0 278.0,514.0 281.4,511.8 283.9,514.0 287.5,516.2 291.2,516.6 294.1,515.5 297.0,517.2 300.7,518.1 305.0,519.6 309.4,521.0 313.8,521.0 319.6,521.6 325.5,522.5 331.3,523.5 337.1,523.9 343.0,524.5 348.8,525.4 354.7,525.4 360.5,526.4 366.4,527.1 369.9,527.5 370.0,527.7 375.8,527.3 381.7,527.3 387.5,528.0 393.4,528.7 399.2,529.7 406.5,530.2 413.8,530.6 419.6,530.9 425.5,530.6 431.3,530.2 437.1,530.9 441.5,530.9 444.4,529.2 448.8,528.3 451.8,528.7 457.6,530.2 463.4,530.6 469.9,530.2 470.0,530.2 474.4,530.6 478.8,528.7 483.1,529.2 487.5,528.0 493.4,528.7 499.2,529.5 506.5,530.2 513.8,530.6 521.1,530.9 528.4,530.6 534.2,530.9 540.1,530.2 544.5,529.7 547.4,528.3 551.8,529.2 557.6,529.7 563.4,529.5 566.4,528.0 569.9,529.2 570.0,529.5 575.8,528.7 581.7,527.7 589.0,527.3 596.3,526.5 603.6,525.8 610.9,524.8 618.2,523.9 625.5,523.6 631.3,522.9 637.1,522.5 643.0,521.4 648.8,520.4 653.2,519.2 657.6,518.9 660.5,520.0 664.2,518.5 667.1,517.5 670.0,518.1" fill="none" stroke="#5B9BD5" stroke-width="2.9" stroke-linejoin="round" stroke-linecap="round"/>
<polyline points="75.1,473.5 78.8,474.3 83.1,473.2 86.1,472.9 89.7,474.3 93.4,474.9 99.2,475.4 105.0,475.4 108.7,473.9 110.2,472.4 111.6,474.3 113.8,472.4 118.2,472.0 124.0,471.4 128.4,471.4 132.8,473.2 135.0,472.0 137.2,472.9 141.5,472.0 147.4,471.7 153.2,471.1 157.6,470.6 160.5,468.8 162.7,470.6 165.6,469.1 169.8,468.2 170.0,469.1 174.4,468.7 178.8,467.7 181.7,469.1 184.6,467.2 188.2,468.1 191.2,466.9 194.8,468.1 199.2,468.1 202.8,467.7 205.0,464.7 208.0,464.3 210.9,463.7 213.8,463.3 218.2,462.3 222.6,461.4 226.9,460.8 231.3,459.9 234.2,459.9 237.2,460.4 238.6,459.6 239.3,439.2 240.1,437.7 245.9,437.0 251.8,436.6 256.9,436.0 257.6,440.7 258.3,458.2 262.0,457.4 266.4,457.1 269.9,457.1 270.0,457.1 275.8,456.7 280.2,456.4 283.1,457.0 284.6,453.8 286.8,456.4 291.9,456.0 297.7,455.3 302.1,454.5 306.5,453.5 310.1,452.3 312.3,454.1 316.7,453.1 321.1,452.0 325.5,451.2 328.4,450.1 332.8,447.7 337.1,448.7 341.5,449.1 345.9,446.5 350.3,445.8 353.2,444.3 356.1,445.0 359.1,444.3 362.0,445.3 366.4,444.4 369.9,444.7 370.0,444.6 375.8,443.9 381.7,442.9 387.5,442.0 393.4,441.4 399.2,440.6 404.3,442.0 408.0,440.6 413.8,440.0 419.6,440.6 424.0,438.8 428.4,438.2 430.6,437.3 432.8,438.1 437.1,437.0 443.0,436.2 448.8,435.6 454.7,435.0 460.5,434.4 466.4,434.1 469.9,433.8 470.0,434.1 477.3,433.7 484.6,433.5 491.9,433.8 499.2,433.8 510.9,434.0 518.2,434.7 525.5,435.9 532.8,437.0 540.1,437.6 547.4,437.8 554.7,437.3 560.5,438.2 564.9,437.6 569.9,437.8 570.0,438.1 574.4,438.5 577.0,437.3 578.8,440.6 583.1,440.0 589.0,440.6 591.9,442.0 594.1,442.4 597.0,441.0 602.1,441.4 608.0,441.1 613.8,441.1 619.6,441.7 625.5,442.4 631.3,443.5 637.1,442.9 640.1,444.3 644.5,442.9 647.4,445.4 651.8,443.9 654.7,445.4 659.0,442.9 661.7,441.4 663.4,447.3 666.4,446.4 670.0,446.1" fill="none" stroke="#70AD47" stroke-width="2.9" stroke-linejoin="round" stroke-linecap="round"/>
<polyline points="75.1,456.8 78.0,458.6 81.0,458.9 83.9,457.4 86.8,456.8 89.7,457.9 91.9,459.7 94.8,457.9 97.7,456.8 100.7,457.4 105.0,456.8 108.0,457.1 110.2,459.3 112.3,461.5 113.8,457.9 115.3,455.9 119.6,454.9 123.3,453.5 126.2,454.2 128.4,454.2 130.6,451.3 134.2,451.0 137.2,449.5 140.1,449.1 143.0,448.4 145.9,446.9 149.6,446.6 151.8,447.6 154.7,446.6 157.6,446.6 160.5,450.1 163.4,450.6 166.3,450.1 169.8,448.4 170.0,448.7 174.4,449.1 178.8,449.4 183.1,448.2 187.5,447.2 191.9,446.5 196.3,446.2 200.7,445.3 205.0,444.7 209.4,444.3 213.8,443.9 218.2,442.4 222.6,441.4 226.9,440.4 229.8,439.2 234.2,439.2 237.2,439.9 240.1,440.9 243.0,441.4 245.9,440.9 249.6,440.7 253.2,439.9 257.6,439.2 259.8,436.3 261.2,434.1 263.4,434.8 265.6,433.6 267.8,433.1 269.9,434.1 270.0,434.5 274.4,433.1 278.8,431.9 284.6,431.6 290.4,430.7 296.3,430.1 302.1,429.3 306.5,429.0 308.7,430.4 310.6,431.9 312.3,428.7 315.3,429.0 318.2,431.6 322.6,431.2 326.9,430.4 329.9,428.7 332.8,427.2 337.1,426.8 340.1,426.1 343.0,425.3 348.8,424.6 354.7,424.6 360.5,424.6 366.4,424.3 369.9,423.9 370.0,423.9 373.6,423.0 375.6,425.9 377.3,422.7 383.1,421.6 389.0,421.3 396.3,421.0 399.2,419.8 405.0,419.1 410.9,420.1 416.7,420.6 421.1,419.5 424.7,421.0 427.7,418.4 429.9,425.4 431.3,420.6 433.5,419.1 437.1,420.6 441.5,419.8 444.4,418.1 448.8,416.9 451.8,414.0 456.1,413.2 460.5,412.2 464.2,410.3 466.4,411.4 469.9,411.8 470.0,411.4 474.4,410.3 481.7,410.2 489.0,410.2 491.9,410.8 494.8,409.6 496.3,409.9 498.0,412.5 499.9,409.9 505.0,410.2 512.3,410.3 516.7,411.4 524.0,411.9 531.3,413.2 537.1,414.0 540.8,415.1 542.3,416.9 544.5,415.1 548.8,415.1 553.2,416.2 557.6,416.6 562.0,417.2 564.2,419.1 566.4,418.1 569.9,419.1 570.0,418.4 575.8,419.5 581.7,420.1 587.5,421.0 590.4,422.7 593.4,423.0 595.5,421.3 599.2,422.0 605.0,422.4 608.0,423.9 613.8,424.5 616.7,425.7 620.4,424.2 622.5,425.9 628.4,426.8 634.2,427.4 640.1,428.3 643.0,429.7 648.8,429.7 654.7,430.3 659.0,431.8 662.0,432.7 664.9,428.3 667.1,430.0 670.0,430.3" fill="none" stroke="#C00000" stroke-width="2.9" stroke-linejoin="round" stroke-linecap="round"/>
</g>
</svg>
</body></html>
